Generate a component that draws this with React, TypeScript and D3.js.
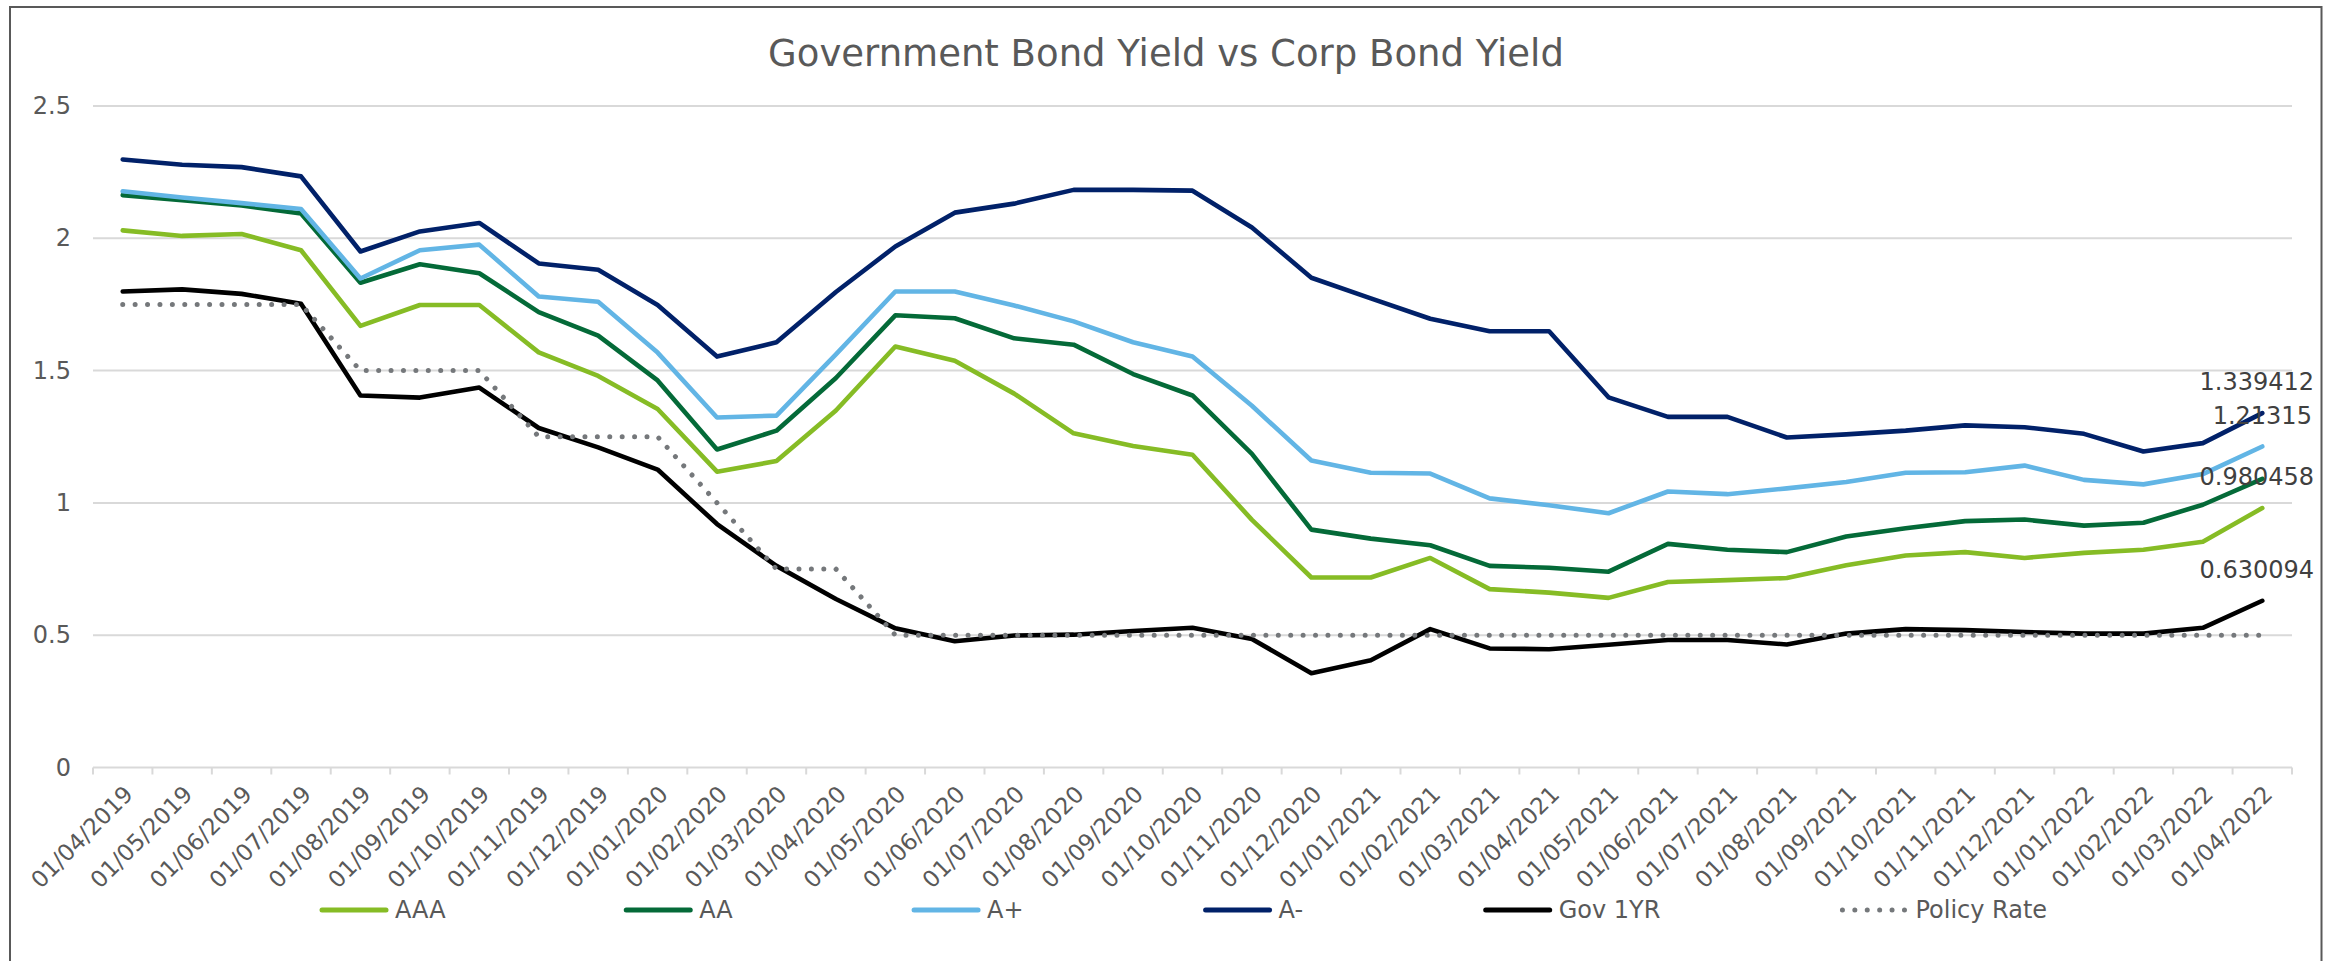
import React from "react";
import * as d3 from "d3";

const dates = [
  "01/04/2019","01/05/2019","01/06/2019","01/07/2019","01/08/2019","01/09/2019","01/10/2019","01/11/2019","01/12/2019",
  "01/01/2020","01/02/2020","01/03/2020","01/04/2020","01/05/2020","01/06/2020","01/07/2020","01/08/2020","01/09/2020","01/10/2020","01/11/2020","01/12/2020",
  "01/01/2021","01/02/2021","01/03/2021","01/04/2021","01/05/2021","01/06/2021","01/07/2021","01/08/2021","01/09/2021","01/10/2021","01/11/2021","01/12/2021",
  "01/01/2022","01/02/2022","01/03/2022","01/04/2022",
];

const aaa = [2.030, 2.009, 2.016, 1.955, 1.669, 1.748, 1.748, 1.569, 1.480, 1.355, 1.118, 1.158, 1.349, 1.591, 1.537, 1.413, 1.263, 1.215, 1.182, 0.936, 0.718, 0.718, 0.792, 0.674, 0.661, 0.641, 0.701, 0.708, 0.716, 0.764, 0.801, 0.814, 0.792, 0.811, 0.823, 0.853, 0.980458];
const aa = [2.163, 2.144, 2.124, 2.094, 1.832, 1.902, 1.868, 1.721, 1.632, 1.463, 1.202, 1.273, 1.472, 1.709, 1.698, 1.622, 1.598, 1.487, 1.406, 1.185, 0.899, 0.865, 0.840, 0.762, 0.755, 0.740, 0.845, 0.823, 0.814, 0.873, 0.904, 0.931, 0.937, 0.914, 0.925, 0.993, 1.091];
const aPlus = [2.178, 2.154, 2.133, 2.111, 1.848, 1.955, 1.976, 1.780, 1.760, 1.568, 1.323, 1.330, 1.561, 1.799, 1.799, 1.746, 1.686, 1.607, 1.553, 1.367, 1.160, 1.114, 1.111, 1.017, 0.991, 0.961, 1.043, 1.033, 1.055, 1.079, 1.114, 1.116, 1.141, 1.087, 1.070, 1.109, 1.21315];
const aMinus = [2.298, 2.278, 2.269, 2.234, 1.950, 2.026, 2.058, 1.905, 1.881, 1.748, 1.553, 1.607, 1.797, 1.969, 2.097, 2.131, 2.183, 2.183, 2.180, 2.041, 1.851, 1.773, 1.696, 1.649, 1.649, 1.399, 1.325, 1.325, 1.247, 1.259, 1.273, 1.293, 1.286, 1.261, 1.194, 1.226, 1.339412];
const gov1yr = [1.799, 1.807, 1.790, 1.753, 1.406, 1.398, 1.436, 1.283, 1.210, 1.126, 0.920, 0.762, 0.637, 0.526, 0.477, 0.499, 0.502, 0.516, 0.528, 0.486, 0.356, 0.405, 0.523, 0.450, 0.447, 0.464, 0.482, 0.482, 0.465, 0.506, 0.523, 0.519, 0.512, 0.506, 0.506, 0.528, 0.630094];
const policyRate = [1.75, 1.75, 1.75, 1.75, 1.5, 1.5, 1.5, 1.25, 1.25, 1.25, 1.0, 0.75, 0.75, 0.5, 0.5, 0.5, 0.5, 0.5, 0.5, 0.5, 0.5, 0.5, 0.5, 0.5, 0.5, 0.5, 0.5, 0.5, 0.5, 0.5, 0.5, 0.5, 0.5, 0.5, 0.5, 0.5, 0.5];

const seriesNames = ["AAA", "AA", "A+", "A-", "Gov 1YR", "Policy Rate"];
const seriesValues = [aaa, aa, aPlus, aMinus, gov1yr, policyRate];
const seriesColors = ["#86BC25", "#046A38", "#62B5E5", "#012169", "#000000", "#75787B"];
const seriesDotted = [false, false, false, false, false, true];
const seriesLabelled = [true, false, true, true, true, false];

const yTicks = [0, 0.5, 1, 1.5, 2, 2.5];
const title = "Government Bond Yield vs Corp Bond Yield";

const W = 2333;
const H = 961;
const FONT = "'DejaVu Sans', Verdana, sans-serif";
const TEXT = "#595959";
const GRID = "#d9d9d9";

export default function App() {
  const left = 93;
  const right = 2292;
  const top = 106;
  const bottom = 767.5;

  const x = d3.scaleBand<string>().domain(dates).range([left, right]).padding(0);
  const y = d3.scaleLinear().domain([0, 2.5]).range([bottom, top]);
  const cx = (d: string) => (x(d) as number) + x.bandwidth() / 2;

  const line = d3
    .line<number>()
    .x((_, i) => cx(dates[i]))
    .y((v) => y(v));

  const boundaries = d3.range(dates.length + 1).map((i) => left + i * x.bandwidth());

  // legend layout
  const legendTextW = (s: string) => {
    const w: Record<string, number> = { A: 0.684, "+": 0.838, "-": 0.361, G: 0.775, o: 0.612, v: 0.592, " ": 0.318, "1": 0.636, Y: 0.611, R: 0.695, P: 0.603, l: 0.278, i: 0.278, c: 0.55, y: 0.592, a: 0.613, t: 0.392, e: 0.615 };
    return s.split("").reduce((acc, ch) => acc + (w[ch] ?? 0.6), 0) * 24;
  };
  const legendY = 910;
  const lineLen = 70;
  let lx = 319;
  const legendItems = seriesNames.map((name, i) => {
    const item = { name, i, x: lx };
    lx += lineLen + 6 + legendTextW(name) + 179;
    return item;
  });

  const labelFont = 24;
  const numW = (s: string) => s.split("").reduce((a, ch) => a + (ch === "." ? 0.318 : 0.636), 0) * labelFont;
  const labelRight = 2314;

  return (
    <svg width={W} height={H} style={{ position: "absolute", left: 0, top: 0, background: "#fff" }} fontFamily={FONT}>
      <rect x={0} y={0} width={W} height={H} fill="#fff" />
      <rect x={10} y={7} width={2311.5} height={1100} fill="#fff" stroke="#595959" strokeWidth={2} />

      <text x={1166} y={53} textAnchor="middle" dominantBaseline="central" fontSize={37} fill={TEXT}>
        {title}
      </text>

      {yTicks.map((t) => (
        <g key={t}>
          <line x1={left} x2={right} y1={y(t)} y2={y(t)} stroke={GRID} strokeWidth={2} />
          <text x={71} y={y(t)} textAnchor="end" dominantBaseline="central" fontSize={24} fill={TEXT}>
            {String(t)}
          </text>
        </g>
      ))}

      {boundaries.map((bx, i) => (
        <line key={i} x1={bx} x2={bx} y1={y(0)} y2={y(0) + 7} stroke={GRID} strokeWidth={2} />
      ))}

      {dates.map((d) => (
        <text
          key={d}
          transform={`translate(${cx(d) + 6},${790}) rotate(-45)`}
          textAnchor="end"
          dominantBaseline="central"
          fontSize={23}
          fill={TEXT}
        >
          {d}
        </text>
      ))}

      {seriesValues.map((vals, i) => (
        <path
          key={seriesNames[i]}
          d={line(vals) || ""}
          fill="none"
          stroke={seriesColors[i]}
          strokeWidth={seriesDotted[i] ? 5 : 4.6}
          strokeLinejoin="round"
          strokeLinecap="round"
          strokeDasharray={seriesDotted[i] ? "0.01 12.4" : undefined}
        />
      ))}

      {seriesValues.map((vals, i) => {
        if (!seriesLabelled[i]) return null;
        const last = vals[vals.length - 1];
        const s = String(last);
        const w = numW(s);
        const px = Math.min(cx(dates[dates.length - 1]), labelRight - w / 2);
        return (
          <text key={"lab" + i} x={px} y={y(last) - 31} textAnchor="middle" dominantBaseline="central" fontSize={labelFont} fill="#404040">
            {s}
          </text>
        );
      })}

      {legendItems.map((it) => (
        <g key={it.name}>
          <line
            x1={it.x + 3}
            x2={it.x + lineLen - 3}
            y1={legendY}
            y2={legendY}
            stroke={seriesColors[it.i]}
            strokeWidth={seriesDotted[it.i] ? 5 : 5}
            strokeLinecap="round"
            strokeDasharray={seriesDotted[it.i] ? "0.01 12.4" : undefined}
          />
          <text x={it.x + lineLen + 6} y={legendY} dominantBaseline="central" fontSize={24} fill={TEXT}>
            {it.name}
          </text>
        </g>
      ))}
    </svg>
  );
}
